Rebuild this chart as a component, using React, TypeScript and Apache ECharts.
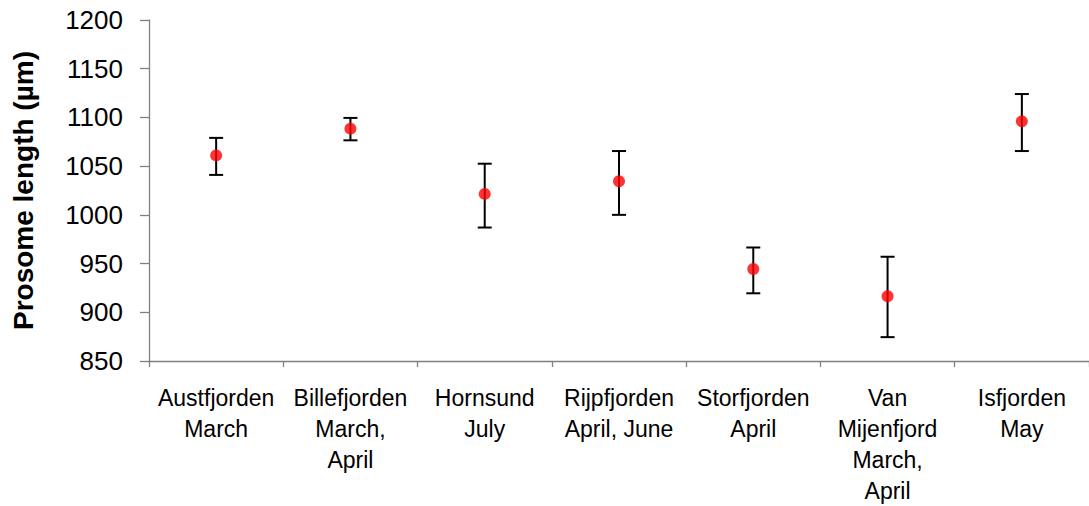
import React, { useEffect, useRef } from "react";
import * as echarts from "echarts";

const categories = [
  "Austfjorden\nMarch",
  "Billefjorden\nMarch,\nApril",
  "Hornsund\nJuly",
  "Rijpfjorden\nApril, June",
  "Storfjorden\nApril",
  "Van\nMijenfjord\nMarch,\nApril",
  "Isfjorden\nMay",
];
const means = [1061, 1088.5, 1021.5, 1034.5, 944.5, 916.5, 1096];
const upper = [1079, 1099.5, 1052.5, 1065.5, 966.5, 957, 1124];
const lower = [1041, 1076.5, 987, 1000, 919.5, 874.5, 1065.5];
const yTicks = { min: 850, max: 1200, interval: 50 };

const FONT = "'Liberation Sans', Arial, Helvetica, sans-serif";

export default function App() {
  const ref = useRef<HTMLDivElement>(null);
  useEffect(() => {
    if (!ref.current) return;
    const chart = echarts.init(ref.current, null, { renderer: "svg" });
    const errData = categories.map((_, i) => [i, lower[i], upper[i]]);
    chart.setOption({
      animation: false,
      backgroundColor: "#ffffff",
      grid: { left: 149, top: 20, width: 943, height: 345 },
      xAxis: {
        type: "category",
        data: categories,
        boundaryGap: true,
        axisLine: { lineStyle: { color: "#808080", width: 1.3 } },
        axisTick: { show: true, length: 6, lineStyle: { color: "#808080", width: 1.3 } },
        axisLabel: {
          interval: 0,
          margin: 21,
          color: "#000",
          fontFamily: FONT,
          fontSize: 23,
          lineHeight: 31,
        },
        splitLine: { show: false },
      },
      yAxis: {
        type: "value",
        min: yTicks.min,
        max: yTicks.max,
        interval: yTicks.interval,
        name: "Prosome length (µm)",
        nameLocation: "middle",
        nameGap: 112,
        nameTextStyle: {
          color: "#000",
          fontFamily: FONT,
          fontSize: 28,
          fontWeight: "bold",
        },
        axisLine: { show: true, lineStyle: { color: "#808080", width: 1.3 } },
        axisTick: { show: true, length: 9, lineStyle: { color: "#808080", width: 1.3 } },
        axisLabel: {
          margin: 26,
          color: "#000",
          fontFamily: FONT,
          fontSize: 26,
          formatter: (v: number) => String(v),
        },
        splitLine: { show: false },
      },
      series: [
        {
          type: "custom",
          data: errData,
          z: 2,
          renderItem: (params: any, api: any) => {
            const x = api.value(0);
            const lo = api.coord([x, api.value(1)]);
            const hi = api.coord([x, api.value(2)]);
            const cap = 7;
            const style = { stroke: "#000", lineWidth: 2 };
            return {
              type: "group",
              children: [
                { type: "line", shape: { x1: lo[0], y1: lo[1], x2: hi[0], y2: hi[1] }, style },
                { type: "line", shape: { x1: lo[0] - cap, y1: lo[1], x2: lo[0] + cap, y2: lo[1] }, style },
                { type: "line", shape: { x1: hi[0] - cap, y1: hi[1], x2: hi[0] + cap, y2: hi[1] }, style },
              ],
            };
          },
        },
        {
          type: "scatter",
          data: means,
          z: 3,
          symbol: "circle",
          symbolSize: 12,
          itemStyle: { color: "#ff0000" },
        },
      ],
    });
    return () => chart.dispose();
  }, []);
  return (
    <div
      ref={ref}
      style={{ position: "fixed", left: 0, top: 0, width: 1089, height: 506, background: "#fff" }}
    />
  );
}
